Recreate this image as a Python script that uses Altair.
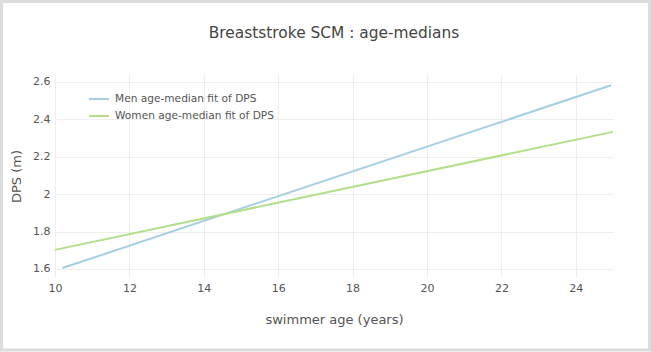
import altair as alt
import pandas as pd

# Data
series_names = ["Men age-median fit of DPS", "Women age-median fit of DPS"]
men_age = [10.2, 24.95]
men_dps = [1.605, 2.582]
women_age = [10.0, 25.0]
women_dps = [1.702, 2.333]
x_ticks = [10, 12, 14, 16, 18, 20, 22, 24]
y_ticks = [1.6, 1.8, 2.0, 2.2, 2.4, 2.6]
colors = ["#a6cee3", "#b2df8a"]
title_text = "Breaststroke SCM : age-medians"

rows = []
for a, d in zip(men_age, men_dps):
    rows.append({"age": a, "dps": d, "series": series_names[0]})
for a, d in zip(women_age, women_dps):
    rows.append({"age": a, "dps": d, "series": series_names[1]})
df = pd.DataFrame(rows)

FONT = "DejaVu Sans"

lines = alt.Chart(df).mark_line(strokeWidth=2).encode(
    x=alt.X("age:Q",
            scale=alt.Scale(domain=[10, 25], nice=False, zero=False),
            axis=alt.Axis(values=x_ticks, title="swimmer age (years)",
                          grid=True, gridColor="#eeeeee", domain=False,
                          ticks=False, labelPadding=5, labelFontSize=11,
                          labelFlush=False,
                          labelColor="#555555", labelFont=FONT,
                          titleFont=FONT, titleFontSize=13,
                          titleFontWeight="normal", titleColor="#555555",
                          titlePadding=20)),
    y=alt.Y("dps:Q",
            scale=alt.Scale(domain=[1.557, 2.637], nice=False, zero=False),
            axis=alt.Axis(values=y_ticks, title="DPS (m)", format="~g",
                          grid=True, gridColor="#eeeeee", domain=False,
                          ticks=False, labelPadding=5, labelFontSize=11,
                          labelFlush=False,
                          labelColor="#555555", labelFont=FONT,
                          titleFont=FONT, titleFontSize=13,
                          titleFontWeight="normal", titleColor="#555555",
                          titlePadding=9)),
    color=alt.Color("series:N",
                    scale=alt.Scale(domain=series_names, range=colors),
                    legend=alt.Legend(title=None, orient="none",
                                      legendX=33, legendY=13,
                                      symbolType="stroke",
                                      symbolStrokeWidth=2,
                                      symbolSize=400,
                                      labelFont=FONT, labelFontSize=10.6,
                                      labelLimit=400,
                                      labelColor="#555555",
                                      rowPadding=-6, labelOffset=5)),
)

frame = alt.Chart(pd.DataFrame({"k": [0]})).mark_rect(
    fill=None, stroke="#dcdcdc", strokeWidth=3
).encode(
    x=alt.value(-53.5), x2=alt.value(594.5),
    y=alt.value(-73.5), y2=alt.value(275),
)

title = alt.Chart(pd.DataFrame({"t": [title_text]})).mark_text(
    font=FONT, fontSize=15.4, color="#444444", align="center",
    baseline="middle"
).encode(
    text="t:N", x=alt.value(279), y=alt.value(-42),
)

chart = alt.layer(lines, frame, title).properties(
    width=558,
    height=202,
    autosize=alt.AutoSizeParams(type="none"),
    padding={"left": 55, "top": 75, "right": 38, "bottom": 75},
).configure(background="white").configure_view(stroke="transparent", strokeWidth=0)

chart.save("out.html", embed_options={"renderer": "svg", "actions": False})
